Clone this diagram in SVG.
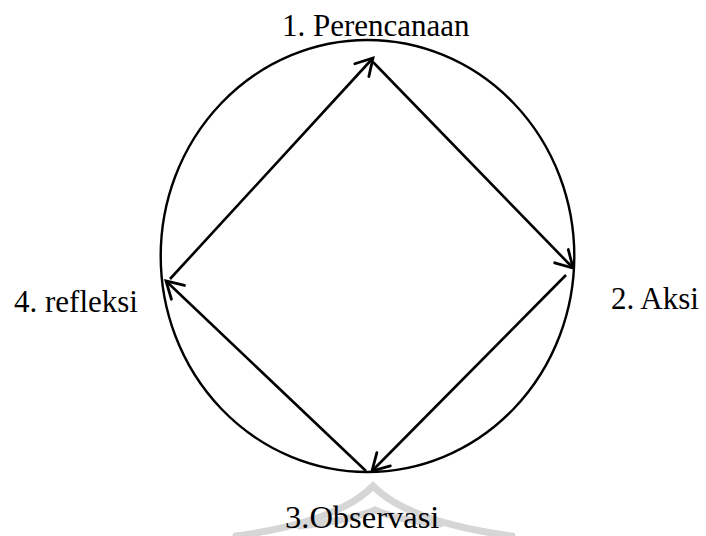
<svg xmlns="http://www.w3.org/2000/svg" width="706" height="536" viewBox="0 0 706 536">
<style>
.edge{stroke:#000;stroke-width:2.6;fill:none;marker-end:url(#arr)}
.wm{stroke:#d6d6d6;stroke-width:7;fill:none;stroke-linecap:round}
text{font-family:'Liberation Serif','Times New Roman',Tinos,'Noto Serif','DejaVu Serif',Georgia,serif;font-size:31px;fill:#000}
</style>
<defs>
<marker id="arr" markerUnits="userSpaceOnUse" markerWidth="30" markerHeight="30" viewBox="-20 -15 30 30" refX="0" refY="0" orient="auto">
<path d="M-16.5,-9.5 L0,0 L-16.5,9.5" fill="none" stroke="#000" stroke-width="2.8" stroke-linecap="round" stroke-linejoin="miter"/>
</marker>
</defs>
<g id="watermark">
<path class="wm" d="M236,536 Q338,522 373,486 Q408,522 512,536"/>
<path class="wm" d="M300,526 Q352,520 375,510 Q398,520 440,524"/>
</g>
<g id="cycle">
<ellipse cx="367.5" cy="256" rx="206.8" ry="216" fill="none" stroke="#000" stroke-width="2.4"/>
</g>
<g id="connectors">
<line class="edge" x1="170" y1="279" x2="373" y2="58"/>
<line class="edge" x1="373" y1="62" x2="573" y2="268"/>
<line class="edge" x1="566" y1="275" x2="372" y2="471"/>
<line class="edge" x1="366" y1="471" x2="166" y2="281"/>
</g>
<g id="n1"><text x="282" y="36">1. Perencanaan</text></g>
<g id="n2"><text x="611" y="309">2. Aksi</text></g>
<g id="n3"><text x="285" y="528" style="font-size:32.5px">3.Observasi</text></g>
<g id="n4"><text x="14" y="312">4. refleksi</text></g>
</svg>
